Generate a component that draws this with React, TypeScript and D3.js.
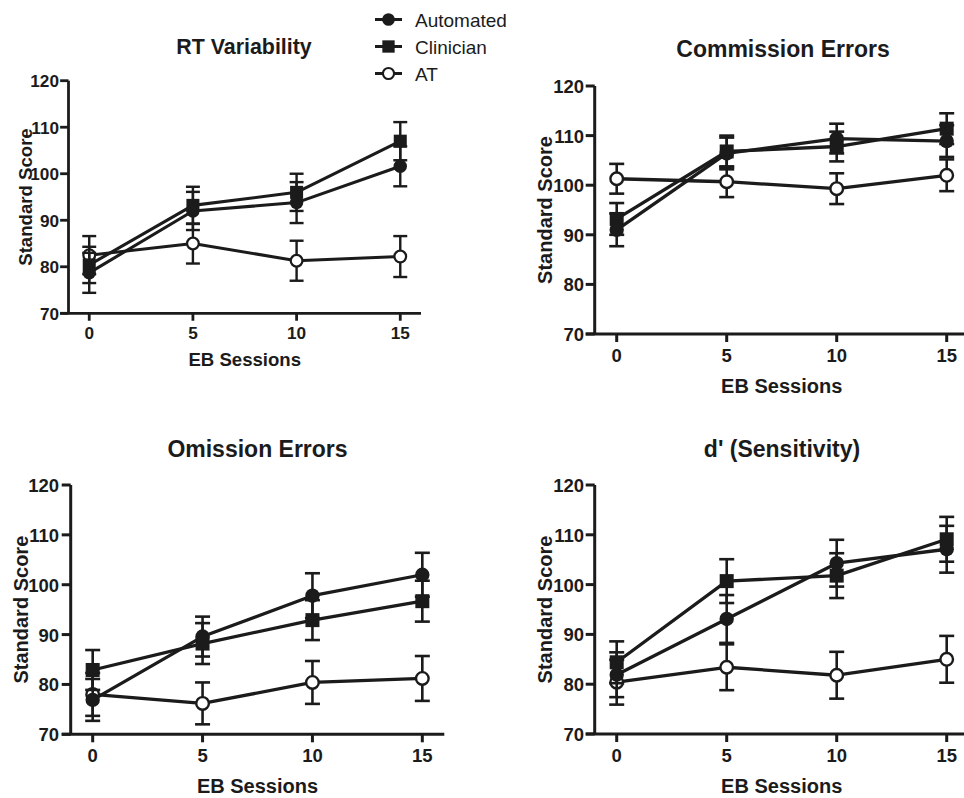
import React from "react";
import * as d3 from "d3";

const sessions = [0, 5, 10, 15];
const xTicks = [0, 5, 10, 15];
const yTicks = [70, 80, 90, 100, 110, 120];
const seriesNames = ["Automated", "Clinician", "AT"];
const panelTitles = ["RT Variability", "Commission Errors", "Omission Errors", "d' (Sensitivity)"];
const xLabel = "EB Sessions";
const yLabel = "Standard Score";

// RT Variability
const rtAutomated = [78.7, 92.0, 93.8, 101.6];
const rtAutomatedErr = [4.3, 4.1, 4.4, 4.3];
const rtClinician = [80.4, 93.2, 96.0, 107.0];
const rtClinicianErr = [3.9, 4.0, 4.0, 4.1];
const rtAT = [82.5, 85.0, 81.3, 82.2];
const rtATErr = [4.1, 4.3, 4.3, 4.4];

// Commission Errors
const ceAutomated = [91.0, 106.4, 109.4, 108.9];
const ceAutomatedErr = [3.3, 3.2, 3.0, 3.2];
const ceClinician = [93.2, 106.8, 107.8, 111.4];
const ceClinicianErr = [3.2, 3.2, 3.0, 3.1];
const ceAT = [101.3, 100.7, 99.3, 102.0];
const ceATErr = [3.0, 3.1, 3.1, 3.2];

// Omission Errors
const oeAutomated = [76.9, 89.6, 97.8, 102.0];
const oeAutomatedErr = [4.2, 4.0, 4.5, 4.4];
const oeClinician = [82.9, 88.2, 92.9, 96.7];
const oeClinicianErr = [4.0, 4.1, 4.0, 4.1];
const oeAT = [78.0, 76.2, 80.4, 81.2];
const oeATErr = [4.3, 4.2, 4.3, 4.5];

// d' (Sensitivity)
const dpAutomated = [81.9, 93.1, 104.3, 107.1];
const dpAutomatedErr = [4.5, 4.8, 4.7, 4.7];
const dpClinician = [84.4, 100.7, 101.8, 109.1];
const dpClinicianErr = [4.2, 4.4, 4.5, 4.5];
const dpAT = [80.4, 83.4, 81.8, 85.0];
const dpATErr = [4.5, 4.6, 4.7, 4.7];

const panelData = [
  [[rtAutomated, rtAutomatedErr], [rtClinician, rtClinicianErr], [rtAT, rtATErr]],
  [[ceAutomated, ceAutomatedErr], [ceClinician, ceClinicianErr], [ceAT, ceATErr]],
  [[oeAutomated, oeAutomatedErr], [oeClinician, oeClinicianErr], [oeAT, oeATErr]],
  [[dpAutomated, dpAutomatedErr], [dpClinician, dpClinicianErr], [dpAT, dpATErr]],
];

const INK = "#1b1b1b";
const FONT = "'Liberation Sans', Arial, Helvetica, sans-serif";

type Layout = {
  xr: [number, number];
  yr: [number, number];
  s: number;
  titleX: number;
  titleY: number;
  xTickY: number;
  xLabelY: number;
  yLabelX: number;
  yTickEnd: number;
};

const layouts: Layout[] = [
  { xr: [68.5, 421], yr: [313.3, 80.7], s: 0.93, titleX: 244, titleY: 54, xTickY: 338.5, xLabelY: 366, yLabelX: 31.5, yTickEnd: 59 },
  { xr: [594.7, 968.7], yr: [334, 86], s: 1, titleX: 783, titleY: 57.3, xTickY: 362, xLabelY: 393, yLabelX: 551.5, yTickEnd: 584 },
  { xr: [70.7, 444.3], yr: [734.3, 485], s: 1, titleX: 257.5, titleY: 456.7, xTickY: 761.7, xLabelY: 792.5, yLabelX: 28.3, yTickEnd: 59 },
  { xr: [594.7, 968.7], yr: [734, 485], s: 1, titleX: 782, titleY: 456.7, xTickY: 761.7, xLabelY: 792.5, yLabelX: 551.5, yTickEnd: 584 },
];

function Marker({ kind, x, y, s }: { kind: number; x: number; y: number; s: number }) {
  if (kind === 0) return <circle cx={x} cy={y} r={7.2 * s} fill={INK} />;
  if (kind === 1) {
    const h = 7 * s;
    return <rect x={x - h} y={y - h} width={2 * h} height={2 * h} fill={INK} />;
  }
  return <circle cx={x} cy={y} r={6.3 * s} fill="#fff" stroke={INK} strokeWidth={2.4 * s} />;
}

function Panel({ idx }: { idx: number }) {
  const L = layouts[idx];
  const s = L.s;
  const x = d3.scaleLinear().domain([-1, 16]).range(L.xr);
  const y = d3.scaleLinear().domain([70, 120]).range(L.yr);
  const line = d3
    .line<number>()
    .x((_, i) => x(sessions[i]))
    .y((d) => y(d));
  const order = [2, 1, 0];
  const capW = 7.5 * s;
  return (
    <g>
      <text x={L.titleX} y={L.titleY} textAnchor="middle" fontSize={23 * s} fontWeight="bold" fill={INK} fontFamily={FONT}>
        {panelTitles[idx]}
      </text>
      <line x1={x(-1)} x2={x(-1)} y1={y(120)} y2={y(70)} stroke={INK} strokeWidth={3 * s} />
      <line x1={x(-1) - 9 * s} x2={x(16)} y1={y(70)} y2={y(70)} stroke={INK} strokeWidth={3 * s} />
      {yTicks.map((t) => (
        <g key={"y" + t}>
          <line x1={x(-1) - 9 * s} x2={x(-1)} y1={y(t)} y2={y(t)} stroke={INK} strokeWidth={3 * s} />
          <text x={L.yTickEnd} y={y(t) + 7 * s} textAnchor="end" fontSize={18.5 * s} fontWeight="bold" fill={INK} fontFamily={FONT}>
            {t}
          </text>
        </g>
      ))}
      {xTicks.map((t) => (
        <g key={"x" + t}>
          <line x1={x(t)} x2={x(t)} y1={y(70)} y2={y(70) + 8 * s} stroke={INK} strokeWidth={3 * s} />
          <text x={x(t)} y={L.xTickY} textAnchor="middle" fontSize={18.5 * s} fontWeight="bold" fill={INK} fontFamily={FONT}>
            {t}
          </text>
        </g>
      ))}
      <text x={x(7.5)} y={L.xLabelY} textAnchor="middle" fontSize={20 * s} fontWeight="bold" fill={INK} fontFamily={FONT}>
        {xLabel}
      </text>
      <text
        transform={`translate(${L.yLabelX},${(y(70) + y(120)) / 2}) rotate(-90)`}
        textAnchor="middle"
        fontSize={20 * s}
        fontWeight="bold"
        fill={INK}
        fontFamily={FONT}
      >
        {yLabel}
      </text>
      {order.map((si) => {
        const [vals, errs] = panelData[idx][si];
        return (
          <g key={"s" + si}>
            {vals.map((v, i) => (
              <g key={"e" + i}>
                <line x1={x(sessions[i])} x2={x(sessions[i])} y1={y(v - errs[i])} y2={y(v + errs[i])} stroke={INK} strokeWidth={2.6 * s} />
                <line x1={x(sessions[i]) - capW} x2={x(sessions[i]) + capW} y1={y(v - errs[i])} y2={y(v - errs[i])} stroke={INK} strokeWidth={2.6 * s} />
                <line x1={x(sessions[i]) - capW} x2={x(sessions[i]) + capW} y1={y(v + errs[i])} y2={y(v + errs[i])} stroke={INK} strokeWidth={2.6 * s} />
              </g>
            ))}
            <path d={line(vals) || ""} fill="none" stroke={INK} strokeWidth={3.3 * s} strokeLinejoin="round" />
            {vals.map((v, i) => (
              <Marker key={"m" + i} kind={si} x={x(sessions[i])} y={y(v)} s={s} />
            ))}
          </g>
        );
      })}
    </g>
  );
}

function Legend() {
  const rows = [19.5, 46.5, 73.5];
  return (
    <g>
      {seriesNames.map((n, i) => (
        <g key={n}>
          <line x1={375} x2={402} y1={rows[i]} y2={rows[i]} stroke={INK} strokeWidth={3} />
          <Marker kind={i} x={388.5} y={rows[i]} s={0.88} />
          <text x={415} y={rows[i] + 7} fontSize={19} fill={INK} fontFamily={FONT}>
            {n}
          </text>
        </g>
      ))}
    </g>
  );
}

export default function App() {
  return (
    <svg
      width={964}
      height={798}
      viewBox="0 0 964 798"
      style={{ position: "absolute", left: 0, top: 0, background: "#fff" }}
    >
      <rect width={964} height={798} fill="#fff" />
      {[0, 1, 2, 3].map((i) => (
        <Panel key={i} idx={i} />
      ))}
      <Legend />
    </svg>
  );
}
